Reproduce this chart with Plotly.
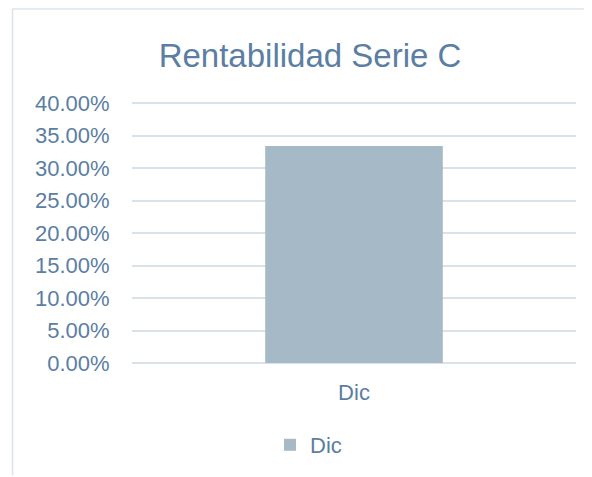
import plotly.graph_objects as go

categories = ["Dic"]
series_name = "Dic"
values = [0.3342]
tick_vals = [0, 0.05, 0.10, 0.15, 0.20, 0.25, 0.30, 0.35, 0.40]
tick_text = ["0.00%", "5.00%", "10.00%", "15.00%", "20.00%", "25.00%", "30.00%", "35.00%", "40.00%"]

# page is rendered with an 8px body margin
W, H = 584, 469
L, R, T, B = 124, 16, 92, 113
pw, ph = W - L - R, H - T - B

text_color = "#5b7ea3"
grid_color = "#d9e1ea"
border_color = "#dbe3ec"

fig = go.Figure()
fig.add_trace(go.Bar(
    x=categories, y=values, name=series_name,
    marker=dict(color="#a5b9c7", line=dict(width=0)),
    showlegend=True,
))

fig.update_layout(
    width=W, height=H,
    margin=dict(l=L, r=R, t=T, b=B),
    paper_bgcolor="white", plot_bgcolor="white",
    font=dict(family="Liberation Sans, Arial, sans-serif", color=text_color, size=22),
    title=dict(text="Rentabilidad Serie C", x=302 / W, xref="container", xanchor="center",
               y=1 - 47 / H, yref="container", yanchor="middle",
               font=dict(size=33, color=text_color)),
    bargap=0.6,
    showlegend=True,
    legend=dict(orientation="h", x=(262 - L) / pw, xanchor="left",
                y=(T + ph - 437) / ph, yanchor="middle",
                font=dict(size=22, color=text_color), itemwidth=30,
                bgcolor="rgba(0,0,0,0)"),
    xaxis=dict(showgrid=False, showline=False, zeroline=False, ticks="outside",
               ticklen=10, tickcolor="rgba(0,0,0,0)",
               tickfont=dict(size=22, color=text_color)),
    yaxis=dict(range=[0, 0.405], tickvals=tick_vals, ticktext=tick_text,
               showgrid=True, gridcolor=grid_color, gridwidth=1.5,
               zeroline=True, zerolinecolor=grid_color, zerolinewidth=1.5,
               showline=False, ticks="outside", ticklen=17, tickcolor="rgba(0,0,0,0)",
               tickfont=dict(size=22, color=text_color)),
    shapes=[
        dict(type="line", xref="paper", yref="paper",
             x0=(4.5 - L) / pw, x1=(4.5 - L) / pw,
             y0=(T + ph - H) / ph, y1=1 + (T - 0.75) / ph,
             line=dict(color=border_color, width=1.5)),
        dict(type="line", xref="paper", yref="paper",
             x0=(4.5 - L) / pw, x1=(W - L) / pw,
             y0=1 + (T - 0.75) / ph, y1=1 + (T - 0.75) / ph,
             line=dict(color=border_color, width=1.5)),
    ],
)

fig.write_html("out.html")
